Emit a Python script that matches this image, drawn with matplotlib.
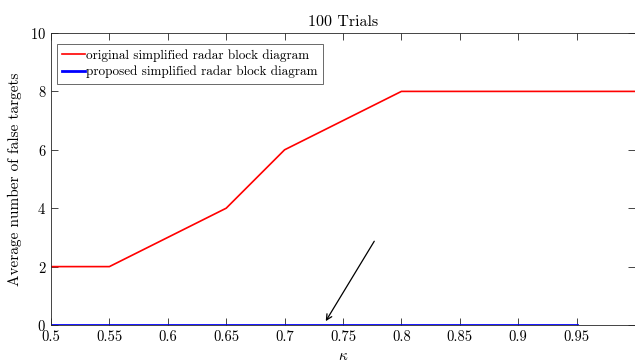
import matplotlib
matplotlib.use('Agg')
from matplotlib import pyplot as plt

plt.rcParams['font.family'] = 'serif'
plt.rcParams['font.serif'] = ['cmr10', 'DejaVu Serif']
plt.rcParams['mathtext.fontset'] = 'cm'
plt.rcParams['axes.formatter.use_mathtext'] = True

kappa = [0.5, 0.55, 0.6, 0.65, 0.7, 0.75, 0.8, 0.85, 0.9, 0.95, 1.0]
original = [2, 2, 3, 4, 6, 7, 8, 8, 8, 8, 8]
kappa_prop = [0.5, 0.55, 0.6, 0.65, 0.7, 0.75, 0.8, 0.85, 0.9, 0.95]
proposed = [0, 0, 0, 0, 0, 0, 0, 0, 0, 0]
xticks = [0.5, 0.55, 0.6, 0.65, 0.7, 0.75, 0.8, 0.85, 0.9, 0.95]
yticks = [0, 2, 4, 6, 8, 10]

fig = plt.figure(figsize=(6.35, 3.61), dpi=100)
ax = fig.add_axes([0.0803, 0.0997, 0.9197, 0.8089])
ax.plot(kappa, original, color='red', lw=1.2, label='original simplified radar block diagram')
ax.plot(kappa_prop, proposed, color='blue', lw=2.0, label='proposed simplified radar block diagram')
ax.annotate('', xy=(0.734, 0.05), xytext=(0.778, 2.95),
            arrowprops=dict(arrowstyle='->', color='black', lw=0.9))
ax.set_xlim(0.5, 1.0)
ax.set_ylim(0, 10)
ax.set_xticks(xticks)
ax.set_xticklabels([str(t) for t in xticks])
ax.set_yticks(yticks)
ax.tick_params(direction='in', top=True, right=True, labelsize=10.5, colors='#262626',
               labelcolor='black', length=5, width=0.6)
for s in ax.spines.values():
    s.set_color('#262626')
    s.set_linewidth(0.6)
ax.set_title('100 Trials', fontsize=11.5, pad=5)
ax.set_xlabel(r'$\kappa$', fontsize=11, labelpad=4)
ax.set_ylabel('Average number of false targets', fontsize=11, labelpad=6)
leg = ax.legend(loc='upper left', bbox_to_anchor=(0.01, 0.963), fontsize=9.5, frameon=True,
                fancybox=False, edgecolor='#262626', borderpad=0.4, handlelength=1.7,
                handletextpad=0.1, labelspacing=0.3, borderaxespad=0.0)
leg.get_frame().set_linewidth(0.6)
fig.savefig('out.png', dpi=100)
